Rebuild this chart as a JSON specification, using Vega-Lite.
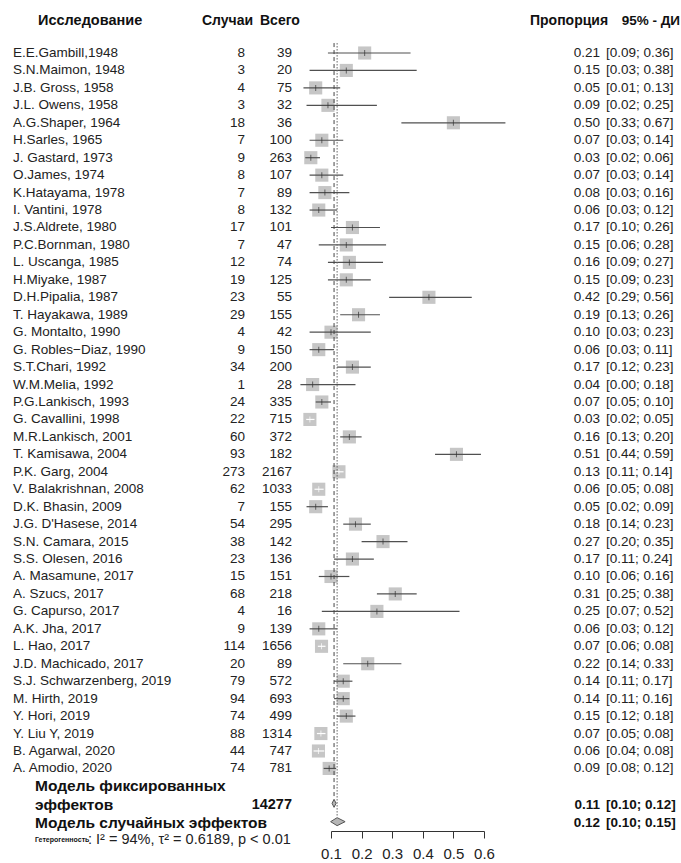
{
  "$schema": "https://vega.github.io/schema/vega-lite/v6.json",
  "padding": 0,
  "spacing": 0,
  "bounds": "flush",
  "config": {
    "view": {"stroke": null},
    "text": {"font": "Liberation Sans", "fontSize": 13.5, "color": "#222"},
    "axisX": {"tickCount": 6, "labelFlush": false, "grid": false, "tickSize": 7, "labelPadding": 8, "labelFontSize": 15, "labelFont": "Liberation Sans", "labelColor": "#222", "domainColor": "#333", "tickColor": "#333"}
  },
  "datasets": {
    "studies": [
      {"study": "E.E.Gambill,1948", "cases": 8, "total": 39, "p": 0.21, "lo": 0.09, "hi": 0.36, "ci": "[0.09; 0.36]"},
      {"study": "S.N.Maimon, 1948", "cases": 3, "total": 20, "p": 0.15, "lo": 0.03, "hi": 0.38, "ci": "[0.03; 0.38]"},
      {"study": "J.B. Gross, 1958", "cases": 4, "total": 75, "p": 0.05, "lo": 0.01, "hi": 0.13, "ci": "[0.01; 0.13]"},
      {"study": "J.L. Owens, 1958", "cases": 3, "total": 32, "p": 0.09, "lo": 0.02, "hi": 0.25, "ci": "[0.02; 0.25]"},
      {"study": "A.G.Shaper, 1964", "cases": 18, "total": 36, "p": 0.50, "lo": 0.33, "hi": 0.67, "ci": "[0.33; 0.67]"},
      {"study": "H.Sarles, 1965", "cases": 7, "total": 100, "p": 0.07, "lo": 0.03, "hi": 0.14, "ci": "[0.03; 0.14]"},
      {"study": "J. Gastard, 1973", "cases": 9, "total": 263, "p": 0.034, "lo": 0.016, "hi": 0.064, "ci": "[0.02; 0.06]"},
      {"study": "O.James, 1974", "cases": 8, "total": 107, "p": 0.07, "lo": 0.03, "hi": 0.14, "ci": "[0.03; 0.14]"},
      {"study": "K.Hatayama, 1978", "cases": 7, "total": 89, "p": 0.08, "lo": 0.03, "hi": 0.16, "ci": "[0.03; 0.16]"},
      {"study": "I. Vantini, 1978", "cases": 8, "total": 132, "p": 0.06, "lo": 0.03, "hi": 0.12, "ci": "[0.03; 0.12]"},
      {"study": "J.S.Aldrete, 1980", "cases": 17, "total": 101, "p": 0.17, "lo": 0.10, "hi": 0.26, "ci": "[0.10; 0.26]"},
      {"study": "P.C.Bornman, 1980", "cases": 7, "total": 47, "p": 0.15, "lo": 0.06, "hi": 0.28, "ci": "[0.06; 0.28]"},
      {"study": "L. Uscanga, 1985", "cases": 12, "total": 74, "p": 0.16, "lo": 0.09, "hi": 0.27, "ci": "[0.09; 0.27]"},
      {"study": "H.Miyake, 1987", "cases": 19, "total": 125, "p": 0.15, "lo": 0.09, "hi": 0.23, "ci": "[0.09; 0.23]"},
      {"study": "D.H.Pipalia, 1987", "cases": 23, "total": 55, "p": 0.42, "lo": 0.29, "hi": 0.56, "ci": "[0.29; 0.56]"},
      {"study": "T. Hayakawa, 1989", "cases": 29, "total": 155, "p": 0.19, "lo": 0.13, "hi": 0.26, "ci": "[0.13; 0.26]"},
      {"study": "G. Montalto, 1990", "cases": 4, "total": 42, "p": 0.10, "lo": 0.03, "hi": 0.23, "ci": "[0.03; 0.23]"},
      {"study": "G. Robles−Diaz, 1990", "cases": 9, "total": 150, "p": 0.06, "lo": 0.03, "hi": 0.11, "ci": "[0.03; 0.11]"},
      {"study": "S.T.Chari, 1992", "cases": 34, "total": 200, "p": 0.17, "lo": 0.12, "hi": 0.23, "ci": "[0.12; 0.23]"},
      {"study": "W.M.Melia, 1992", "cases": 1, "total": 28, "p": 0.04, "lo": 0.00, "hi": 0.18, "ci": "[0.00; 0.18]"},
      {"study": "P.G.Lankisch, 1993", "cases": 24, "total": 335, "p": 0.07, "lo": 0.05, "hi": 0.10, "ci": "[0.05; 0.10]"},
      {"study": "G. Cavallini, 1998", "cases": 22, "total": 715, "p": 0.031, "lo": 0.019, "hi": 0.046, "ci": "[0.02; 0.05]"},
      {"study": "M.R.Lankisch, 2001", "cases": 60, "total": 372, "p": 0.16, "lo": 0.13, "hi": 0.20, "ci": "[0.13; 0.20]"},
      {"study": "T. Kamisawa, 2004", "cases": 93, "total": 182, "p": 0.51, "lo": 0.44, "hi": 0.59, "ci": "[0.44; 0.59]"},
      {"study": "P.K. Garg, 2004", "cases": 273, "total": 2167, "p": 0.126, "lo": 0.112, "hi": 0.141, "ci": "[0.11; 0.14]"},
      {"study": "V. Balakrishnan, 2008", "cases": 62, "total": 1033, "p": 0.06, "lo": 0.046, "hi": 0.076, "ci": "[0.05; 0.08]"},
      {"study": "D.K. Bhasin, 2009", "cases": 7, "total": 155, "p": 0.05, "lo": 0.02, "hi": 0.09, "ci": "[0.02; 0.09]"},
      {"study": "J.G. D'Hasese, 2014", "cases": 54, "total": 295, "p": 0.18, "lo": 0.14, "hi": 0.23, "ci": "[0.14; 0.23]"},
      {"study": "S.N. Camara, 2015", "cases": 38, "total": 142, "p": 0.27, "lo": 0.20, "hi": 0.35, "ci": "[0.20; 0.35]"},
      {"study": "S.S. Olesen, 2016", "cases": 23, "total": 136, "p": 0.17, "lo": 0.11, "hi": 0.24, "ci": "[0.11; 0.24]"},
      {"study": "A. Masamune, 2017", "cases": 15, "total": 151, "p": 0.10, "lo": 0.06, "hi": 0.16, "ci": "[0.06; 0.16]"},
      {"study": "A. Szucs, 2017", "cases": 68, "total": 218, "p": 0.31, "lo": 0.25, "hi": 0.38, "ci": "[0.25; 0.38]"},
      {"study": "G. Capurso, 2017", "cases": 4, "total": 16, "p": 0.25, "lo": 0.07, "hi": 0.52, "ci": "[0.07; 0.52]"},
      {"study": "A.K. Jha, 2017", "cases": 9, "total": 139, "p": 0.06, "lo": 0.03, "hi": 0.12, "ci": "[0.03; 0.12]"},
      {"study": "L. Hao, 2017", "cases": 114, "total": 1656, "p": 0.069, "lo": 0.057, "hi": 0.082, "ci": "[0.06; 0.08]"},
      {"study": "J.D. Machicado, 2017", "cases": 20, "total": 89, "p": 0.22, "lo": 0.14, "hi": 0.33, "ci": "[0.14; 0.33]"},
      {"study": "S.J. Schwarzenberg, 2019", "cases": 79, "total": 572, "p": 0.14, "lo": 0.11, "hi": 0.17, "ci": "[0.11; 0.17]"},
      {"study": "M. Hirth, 2019", "cases": 94, "total": 693, "p": 0.14, "lo": 0.11, "hi": 0.16, "ci": "[0.11; 0.16]"},
      {"study": "Y. Hori, 2019", "cases": 74, "total": 499, "p": 0.15, "lo": 0.12, "hi": 0.18, "ci": "[0.12; 0.18]"},
      {"study": "Y. Liu Y, 2019", "cases": 88, "total": 1314, "p": 0.067, "lo": 0.054, "hi": 0.082, "ci": "[0.05; 0.08]"},
      {"study": "B. Agarwal, 2020", "cases": 44, "total": 747, "p": 0.059, "lo": 0.043, "hi": 0.078, "ci": "[0.04; 0.08]"},
      {"study": "A. Amodio, 2020", "cases": 74, "total": 781, "p": 0.094, "lo": 0.076, "hi": 0.117, "ci": "[0.08; 0.12]"}
    ]
  },
  "hconcat": [
    {
      "width": 331,
      "height": 831,
      "layer": [
        {
          "data": {"name": "studies"},
          "transform": [{"window": [{"op": "row_number", "as": "row"}]}],
          "mark": {"type": "text", "align": "left", "baseline": "middle"},
          "encoding": {"y": {"field": "row", "type": "quantitative", "scale": {"domain": [-2.037, 45.585], "reverse": true, "nice": false, "zero": false}, "axis": null}, "x": {"value": 13}, "text": {"field": "study", "type": "nominal"}}
        },
        {
          "data": {"name": "studies"},
          "transform": [{"window": [{"op": "row_number", "as": "row"}]}],
          "mark": {"type": "text", "align": "right", "baseline": "middle"},
          "encoding": {"y": {"field": "row", "type": "quantitative"}, "x": {"value": 245}, "text": {"field": "cases", "type": "nominal"}}
        },
        {
          "data": {"name": "studies"},
          "transform": [{"window": [{"op": "row_number", "as": "row"}]}],
          "mark": {"type": "text", "align": "right", "baseline": "middle"},
          "encoding": {"y": {"field": "row", "type": "quantitative"}, "x": {"value": 292}, "text": {"field": "total", "type": "nominal"}}
        },
        {
          "data": {"values": [{"title": "Исследование"}]},
          "mark": {"type": "text", "align": "left", "baseline": "middle", "fontWeight": "bold", "fontSize": 14.5, "color": "#111"},
          "encoding": {"x": {"value": 38}, "y": {"datum": -0.85, "type": "quantitative"}, "text": {"field": "title", "type": "nominal"}}
        },
        {
          "data": {"values": [{"title": "Случаи"}]},
          "mark": {"type": "text", "align": "left", "baseline": "middle", "fontWeight": "bold", "fontSize": 14, "color": "#111"},
          "encoding": {"x": {"value": 202}, "y": {"datum": -0.85, "type": "quantitative"}, "text": {"field": "title", "type": "nominal"}}
        },
        {
          "data": {"values": [{"title": "Всего"}]},
          "mark": {"type": "text", "align": "left", "baseline": "middle", "fontWeight": "bold", "fontSize": 14, "color": "#111"},
          "encoding": {"x": {"value": 260}, "y": {"datum": -0.85, "type": "quantitative"}, "text": {"field": "title", "type": "nominal"}}
        },
        {
          "data": {"values": [{"label": "Модель фиксированных"}]},
          "mark": {"type": "text", "align": "left", "baseline": "middle", "fontWeight": "bold", "fontSize": 15.5, "color": "#111"},
          "encoding": {"x": {"value": 35}, "y": {"datum": 43, "type": "quantitative"}, "text": {"field": "label", "type": "nominal"}}
        },
        {
          "data": {"values": [{"label": "эффектов", "total": 14277}]},
          "mark": {"type": "text", "align": "left", "baseline": "middle", "fontWeight": "bold", "fontSize": 15.5, "color": "#111"},
          "encoding": {"x": {"value": 35}, "y": {"datum": 44.1, "type": "quantitative"}, "text": {"field": "label", "type": "nominal"}}
        },
        {
          "data": {"values": [{"label": "эффектов", "total": 14277}]},
          "mark": {"type": "text", "align": "right", "baseline": "middle", "fontWeight": "bold", "fontSize": 14.5, "color": "#111"},
          "encoding": {"x": {"value": 292}, "y": {"datum": 44.1, "type": "quantitative"}, "text": {"field": "total", "type": "nominal"}}
        },
        {
          "data": {"values": [{"label": "Модель случайных эффектов"}]},
          "mark": {"type": "text", "align": "left", "baseline": "middle", "fontWeight": "bold", "fontSize": 15.5, "color": "#111"},
          "encoding": {"x": {"value": 35}, "y": {"datum": 45.15, "type": "quantitative"}, "text": {"field": "label", "type": "nominal"}}
        },
        {
          "data": {"values": [{"label": "Гетерогенность", "stats": ": I² = 94%, τ² = 0.6189, p < 0.01"}]},
          "mark": {"type": "text", "align": "left", "baseline": "middle", "fontWeight": "bold", "fontSize": 7, "color": "#111"},
          "encoding": {"x": {"value": 35}, "y": {"datum": 46.1, "type": "quantitative"}, "text": {"field": "label", "type": "nominal"}}
        },
        {
          "data": {"values": [{"label": "Гетерогенность", "stats": ": I² = 94%, τ² = 0.6189, p < 0.01"}]},
          "mark": {"type": "text", "align": "left", "baseline": "middle", "fontSize": 14.5},
          "encoding": {"x": {"value": 88}, "y": {"datum": 46.1, "type": "quantitative"}, "text": {"field": "stats", "type": "nominal"}}
        }
      ]
    },
    {
      "width": 153,
      "height": 831,
      "layer": [
        {
          "data": {"name": "studies"},
          "transform": [{"window": [{"op": "row_number", "as": "row"}]}],
          "mark": {"type": "point", "shape": "square", "filled": true, "size": 172, "color": "#c6c6c6", "opacity": 1},
          "encoding": {
            "y": {"field": "row", "type": "quantitative", "scale": {"domain": [-2.037, 45.585], "reverse": true, "nice": false, "zero": false}, "axis": null},
            "x": {"field": "p", "type": "quantitative", "title": null, "scale": {"domain": [0.1, 0.6], "nice": false, "zero": false}}
          }
        },
        {
          "data": {"name": "studies"},
          "transform": [{"window": [{"op": "row_number", "as": "row"}]}],
          "mark": {"type": "rule", "strokeWidth": 1.2},
          "encoding": {
            "y": {"field": "row", "type": "quantitative"},
            "x": {"field": "lo", "type": "quantitative", "title": null},
            "x2": {"field": "hi"},
            "color": {"condition": {"test": "datum.hi - datum.lo < 0.038", "value": "#ffffff"}, "value": "#505050"}
          }
        },
        {
          "data": {"name": "studies"},
          "transform": [{"window": [{"op": "row_number", "as": "row"}]}],
          "mark": {"type": "tick", "orient": "vertical", "size": 6, "thickness": 1},
          "encoding": {
            "y": {"field": "row", "type": "quantitative"},
            "x": {"field": "p", "type": "quantitative", "title": null},
            "color": {"condition": {"test": "datum.hi - datum.lo < 0.038", "value": "#ffffff"}, "value": "#333333"}
          }
        },
        {
          "data": {"values": [{"model": "fixed", "p": 0.11}]},
          "mark": {"type": "rule", "strokeDash": [4, 3], "color": "#444", "strokeWidth": 1},
          "encoding": {"x": {"field": "p", "type": "quantitative", "title": null}, "y": {"datum": 0.43, "type": "quantitative"}, "y2": {"datum": 43.7}}
        },
        {
          "data": {"values": [{"model": "random", "p": 0.12}]},
          "mark": {"type": "rule", "strokeDash": [1.5, 1.5], "color": "#666", "strokeWidth": 1},
          "encoding": {"x": {"field": "p", "type": "quantitative", "title": null}, "y": {"datum": 0.43, "type": "quantitative"}, "y2": {"datum": 44.7}}
        },
        {
          "data": {"values": [{"model": "fixed", "p": 0.11, "lo": 0.10, "hi": 0.12}]},
          "mark": {"type": "point", "shape": "M -0.5 0 L 0 -1 L 0.5 0 L 0 1 Z", "size": 64, "filled": true, "fill": "#b5b5b5", "stroke": "#555", "strokeWidth": 1, "opacity": 1},
          "encoding": {"x": {"field": "p", "type": "quantitative", "title": null}, "y": {"datum": 44, "type": "quantitative"}}
        },
        {
          "data": {"values": [{"model": "random", "p": 0.12, "lo": 0.10, "hi": 0.15}]},
          "mark": {"type": "point", "shape": "M -0.65 0 L 0 -0.4 L 0.8 0 L 0 0.4 Z", "size": 400, "filled": true, "fill": "#b5b5b5", "stroke": "#555", "strokeWidth": 1, "opacity": 1},
          "encoding": {"x": {"field": "p", "type": "quantitative", "title": null}, "y": {"datum": 45.05, "type": "quantitative"}}
        }
      ]
    },
    {
      "width": 197,
      "height": 831,
      "layer": [
        {
          "data": {"name": "studies"},
          "transform": [{"window": [{"op": "row_number", "as": "row"}]}],
          "mark": {"type": "text", "align": "right", "baseline": "middle"},
          "encoding": {"y": {"field": "row", "type": "quantitative", "scale": {"domain": [-2.037, 45.585], "reverse": true, "nice": false, "zero": false}, "axis": null}, "x": {"value": 116}, "text": {"field": "p", "type": "quantitative", "format": ".2f"}}
        },
        {
          "data": {"name": "studies"},
          "transform": [{"window": [{"op": "row_number", "as": "row"}]}],
          "mark": {"type": "text", "align": "left", "baseline": "middle"},
          "encoding": {"y": {"field": "row", "type": "quantitative"}, "x": {"value": 122}, "text": {"field": "ci", "type": "nominal"}}
        },
        {
          "data": {"values": [{"title": "Пропорция"}]},
          "mark": {"type": "text", "align": "left", "baseline": "middle", "fontWeight": "bold", "fontSize": 14, "color": "#111"},
          "encoding": {"x": {"value": 46}, "y": {"datum": -0.85, "type": "quantitative"}, "text": {"field": "title", "type": "nominal"}}
        },
        {
          "data": {"values": [{"title": "95% - ДИ"}]},
          "mark": {"type": "text", "align": "right", "baseline": "middle", "fontWeight": "bold", "fontSize": 13.5, "color": "#111"},
          "encoding": {"x": {"value": 196}, "y": {"datum": -0.85, "type": "quantitative"}, "text": {"field": "title", "type": "nominal"}}
        },
        {
          "data": {"values": [{"p": 0.11, "ci": "[0.10; 0.12]"}]},
          "mark": {"type": "text", "align": "right", "baseline": "middle", "fontWeight": "bold", "fontSize": 13.5, "color": "#111"},
          "encoding": {"x": {"value": 116}, "y": {"datum": 44.1, "type": "quantitative"}, "text": {"field": "p", "type": "quantitative", "format": ".2f"}}
        },
        {
          "data": {"values": [{"p": 0.11, "ci": "[0.10; 0.12]"}]},
          "mark": {"type": "text", "align": "left", "baseline": "middle", "fontWeight": "bold", "fontSize": 13.5, "color": "#111"},
          "encoding": {"x": {"value": 122}, "y": {"datum": 44.1, "type": "quantitative"}, "text": {"field": "ci", "type": "nominal"}}
        },
        {
          "data": {"values": [{"p": 0.12, "ci": "[0.10; 0.15]"}]},
          "mark": {"type": "text", "align": "right", "baseline": "middle", "fontWeight": "bold", "fontSize": 13.5, "color": "#111"},
          "encoding": {"x": {"value": 116}, "y": {"datum": 45.1, "type": "quantitative"}, "text": {"field": "p", "type": "quantitative", "format": ".2f"}}
        },
        {
          "data": {"values": [{"p": 0.12, "ci": "[0.10; 0.15]"}]},
          "mark": {"type": "text", "align": "left", "baseline": "middle", "fontWeight": "bold", "fontSize": 13.5, "color": "#111"},
          "encoding": {"x": {"value": 122}, "y": {"datum": 45.1, "type": "quantitative"}, "text": {"field": "ci", "type": "nominal"}}
        }
      ]
    }
  ]
}
